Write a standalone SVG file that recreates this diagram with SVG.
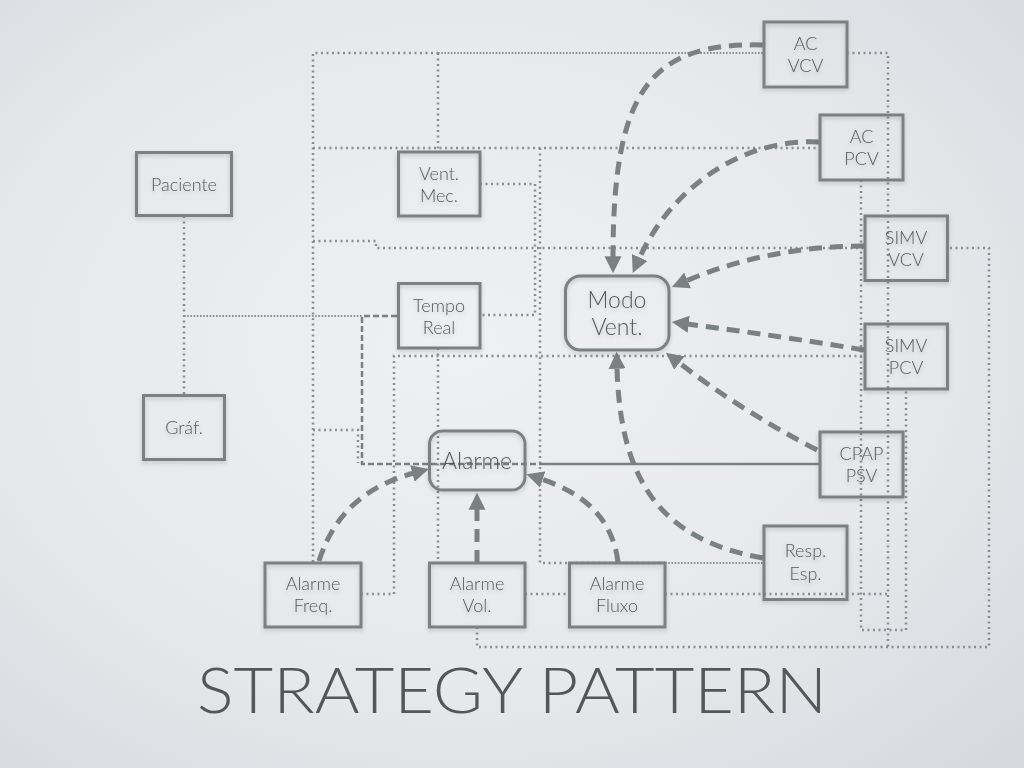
<svg xmlns="http://www.w3.org/2000/svg" width="1024" height="768" viewBox="0 0 1024 768">
  <defs>
    <radialGradient id="bg" cx="45%" cy="45%" r="75%">
      <stop offset="0" stop-color="#eef0f2"/>
      <stop offset="0.6" stop-color="#e6e8eb"/>
      <stop offset="1" stop-color="#d6d9de"/>
    </radialGradient>
    <filter id="sh" x="-20%" y="-20%" width="140%" height="140%">
      <feDropShadow dx="0" dy="2" stdDeviation="2" flood-color="#000" flood-opacity="0.18"/>
    </filter>
    <marker id="ah" markerUnits="userSpaceOnUse" markerWidth="17" markerHeight="18" viewBox="0 0 10 10" refX="1" refY="5" orient="auto">
      <path d="M0,0 L10,5 L0,10 z" fill="#7b8080"/>
    </marker>
    <style>
      .box { fill: none; stroke: #7b8080; stroke-width: 3; }
      .lbl { font-family: "Lato", "Open Sans", "Liberation Sans", sans-serif; font-size: 18px; font-weight: 300; fill: #55595a; text-anchor: middle; }
      .big { font-size: 23px; }
      .dot { fill: none; stroke: #8a8f93; stroke-width: 2.5; stroke-dasharray: 2 3.5; }
      .dense { fill: none; stroke: #8a8f93; stroke-width: 2; stroke-dasharray: 1.6 1.6; }
      .thin { fill: none; stroke: #7b8080; stroke-width: 2.5; stroke-dasharray: 6 3; }
      .solid { fill: none; stroke: #7b8080; stroke-width: 2.5; }
      .arr { fill: none; stroke: #7b8080; stroke-width: 5; stroke-dasharray: 13 8; marker-end: url(#ah); }
      .title { font-family: "Lato", "Open Sans", "Liberation Sans", sans-serif; font-size: 64px; font-weight: 300; fill: #535758; }
    </style>
  </defs>
  <rect width="1024" height="768" fill="url(#bg)"/>

  <g id="connectors">
    <!-- dotted structure lines -->
    <path class="dot" d="M184,216 V395"/>
    <path class="dense" d="M184,316 H362"/>
    <path class="dot" d="M313,562 V53 H438"/>
    <path class="dense" d="M438,53 H763"/>
    <path class="dot" d="M438,53 V151"/>
    <path class="dot" d="M313,148 H819"/>
    <path class="dot" d="M480,184 H535 V315 H480"/>
    <path class="dot" d="M540,148 V563 H665"/>
    <path class="dense" d="M665,563 H764"/>
    <path class="dot" d="M313,241 H376 V248 H865"/>
    <path class="dot" d="M361,594 H394 V356 H862"/>
    <path class="dot" d="M438,348 V563"/>
    <path class="dot" d="M313,430 H358 V463"/>
    <path class="dot" d="M525,594 H569"/>
    <path class="dot" d="M665,594 H888"/>
    <path class="dot" d="M847,53 H888 V647"/>
    <path class="dot" d="M477,627 V647 H989 V248 H948"/>
    <path class="dot" d="M861,180 V630 H906 V389"/>
    <!-- Tempo Real / Alarme / CPAP line -->
    <path class="thin" d="M397,316 H362 V464 H540"/>
    <path class="solid" d="M540,464 H820"/>
    <!-- strategy arrows to Modo Vent. -->
    <path class="arr" d="M763,45 C650,42 613,90 613,258"/>
    <path class="arr" d="M819,142 C740,138 670,190 639,259"/>
    <path class="arr" d="M864,246 C800,246 740,258 686,281"/>
    <path class="arr" d="M864,350 Q780,336 687,324"/>
    <path class="arr" d="M817,450 Q740,410 678,362"/>
    <path class="arr" d="M763,558 C660,540 620,480 617,367"/>
    <!-- strategy arrows to Alarme -->
    <path class="arr" d="M319,561 C335,510 370,485 414,473"/>
    <path class="arr" d="M477,563 V508"/>
    <path class="arr" d="M618,562 C612,515 580,492 541,479"/>
  </g>

  <g id="paciente" filter="url(#sh)">
    <rect class="box" x="136.5" y="152.5" width="95" height="63"/>
    <text class="lbl" x="184" y="191">Paciente</text>
  </g>
  <g id="graf" filter="url(#sh)">
    <rect class="box" x="143.5" y="395.5" width="81" height="64"/>
    <text class="lbl" x="184" y="434">Gráf.</text>
  </g>
  <g id="vent-mec" filter="url(#sh)">
    <rect class="box" x="398.5" y="152" width="81.5" height="64"/>
    <text class="lbl" x="439" y="180">Vent.</text>
    <text class="lbl" x="439" y="202">Mec.</text>
  </g>
  <g id="tempo-real" filter="url(#sh)">
    <rect class="box" x="398.5" y="283.5" width="81.5" height="64.5"/>
    <text class="lbl" x="439" y="312">Tempo</text>
    <text class="lbl" x="439" y="334">Real</text>
  </g>
  <g id="modo-vent" filter="url(#sh)">
    <rect class="box" x="565.5" y="276" width="103.5" height="74" rx="15"/>
    <text class="lbl big" x="617" y="308">Modo</text>
    <text class="lbl big" x="617" y="335">Vent.</text>
  </g>
  <g id="alarme" filter="url(#sh)">
    <rect class="box" x="429.5" y="431" width="95.5" height="59" rx="13"/>
    <text class="lbl big" x="477" y="469">Alarme</text>
  </g>
  <g id="ac-vcv" filter="url(#sh)">
    <rect class="box" x="764" y="22" width="83" height="65"/>
    <text class="lbl" x="805.5" y="50">AC</text>
    <text class="lbl" x="805.5" y="72">VCV</text>
  </g>
  <g id="ac-pcv" filter="url(#sh)">
    <rect class="box" x="820" y="115" width="83" height="65"/>
    <text class="lbl" x="861.5" y="143">AC</text>
    <text class="lbl" x="861.5" y="165">PCV</text>
  </g>
  <g id="simv-vcv" filter="url(#sh)">
    <rect class="box" x="865" y="216" width="82.5" height="64.5"/>
    <text class="lbl" x="906" y="244">SIMV</text>
    <text class="lbl" x="906" y="266">VCV</text>
  </g>
  <g id="simv-pcv" filter="url(#sh)">
    <rect class="box" x="865" y="324" width="82.5" height="65"/>
    <text class="lbl" x="906" y="352">SIMV</text>
    <text class="lbl" x="906" y="374">PCV</text>
  </g>
  <g id="cpap-psv" filter="url(#sh)">
    <rect class="box" x="820" y="432" width="83" height="65"/>
    <text class="lbl" x="861.5" y="460">CPAP</text>
    <text class="lbl" x="861.5" y="482">PSV</text>
  </g>
  <g id="resp-esp" filter="url(#sh)">
    <rect class="box" x="764" y="526" width="83" height="73.5"/>
    <text class="lbl" x="805.5" y="557">Resp.</text>
    <text class="lbl" x="805.5" y="580">Esp.</text>
  </g>
  <g id="alarme-freq" filter="url(#sh)">
    <rect class="box" x="265" y="563" width="96" height="64"/>
    <text class="lbl" x="313" y="590">Alarme</text>
    <text class="lbl" x="313" y="612">Freq.</text>
  </g>
  <g id="alarme-vol" filter="url(#sh)">
    <rect class="box" x="429.5" y="563" width="95.5" height="64"/>
    <text class="lbl" x="477" y="590">Alarme</text>
    <text class="lbl" x="477" y="612">Vol.</text>
  </g>
  <g id="alarme-fluxo" filter="url(#sh)">
    <rect class="box" x="569.5" y="563" width="95.5" height="64"/>
    <text class="lbl" x="617" y="590">Alarme</text>
    <text class="lbl" x="617" y="612">Fluxo</text>
  </g>

  <text class="title" x="197" y="713" textLength="630" lengthAdjust="spacingAndGlyphs">STRATEGY PATTERN</text>
</svg>
